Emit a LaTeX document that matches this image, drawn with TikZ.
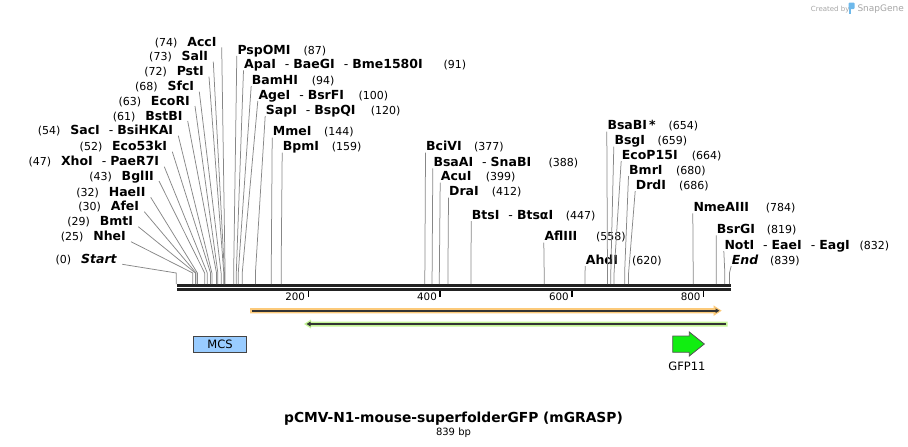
\documentclass[tikz,border=0pt]{standalone}
\usepackage{fontspec}
\setmainfont{DejaVu Sans}
\usepackage{xcolor}
\usepackage{tikz}
\usetikzlibrary{calc,arrows.meta}
\definecolor{siteGray}{RGB}{135,135,135}
\definecolor{backboneBlack}{RGB}{34,34,34}
\definecolor{featOrange}{RGB}{252,202,122}
\definecolor{featGreen}{RGB}{196,245,150}
\definecolor{featDark}{RGB}{51,51,51}
\definecolor{mcsBlue}{RGB}{153,204,255}
\definecolor{mcsEdge}{RGB}{68,68,68}
\definecolor{gfpGreen}{RGB}{17,238,17}
\definecolor{gfpEdge}{RGB}{85,85,85}
\definecolor{markGray}{RGB}{165,165,165}
\definecolor{snapBlue}{RGB}{110,185,235}
\newcommand{\orsep}{\hspace{9pt}{\mdseries-}\hspace{4pt}}

\begin{document}
\begin{tikzpicture}[x=1pt,y=-1pt,
    enz/.style={font=\fontsize{12.5}{14}\selectfont\bfseries,inner sep=0pt},
    bpnum/.style={font=\fontsize{11}{13}\selectfont,inner sep=0pt},
    cutline/.style={draw=siteGray,line width=0.75pt},
    tickline/.style={draw=black,line width=1.3pt},
    plain/.style={font=\fontsize{11.5}{13}\selectfont,inner sep=0pt}
  ]
  \useasboundingbox (0,0) rectangle (908,447);

  % sequence backbone
  \coordinate (seqStart) at (177,287.3);
  \coordinate (seqEnd) at (730.7,287.3);
  \draw[backboneBlack,line width=2.7pt] ([yshift=-2pt]seqStart) -- ([yshift=-2pt]seqEnd);
  \draw[backboneBlack,line width=2.7pt] ([yshift=2pt]seqStart) -- ([yshift=2pt]seqEnd);
  \foreach \t in {200,400,600,800} {
    \pgfmathsetmacro{\tx}{176.3+0.6593*\t}
    \draw[tickline] (\tx,290.5) -- (\tx,297);
    \node[anchor=base east,font=\fontsize{10.3}{12}\selectfont,inner sep=0pt] (t\t) at (\tx-3,300.5) {\t};
  }

  % sites labelled on the left
  \foreach \bp/\y/\xe/\name [count=\i] in {
      74/42.3/216.7/AccI, 73/56.7/208.3/SalI, 72/71.7/204/PstI,
      68/86.7/194.3/SfcI, 63/101/190/EcoRI, 61/116/182.7/BstBI,
      54/130.7/173.3/SacI\orsep BsiHKAI, 52/146.7/167.3/Eco53kI,
      47/161.7/159.3/XhoI\orsep PaeR7I, 43/176/154/BglII,
      32/192.3/145.7/HaeII, 30/206.7/139.3/AfeI, 29/221.7/133.3/BmtI,
      25/236.7/126/NheI, 0/259.3/117.3/\textit{Start}} {
    \pgfmathsetmacro{\sx}{176.3+0.6593*\bp}
    \node[enz,anchor=base east] (l\i) at (\xe,\y+4) {\name};
    \node[bpnum,anchor=base east] (ln\i) at ([xshift=-9.5pt]l\i.base west) {(\bp)};
    \coordinate (ls\i) at (\sx,273);
    \coordinate (lb\i) at (\sx,284);
    \draw[cutline] ([shift={(5,1)}]l\i.base east) -- (ls\i) -- (lb\i);
  }

  % sites labelled above
  \foreach \bp/\y/\xs/\xn/\name [count=\i] in {
      87/50/237.3/303.3/PspOMI,
      91/64.3/244/443.3/ApaI\orsep BaeGI\orsep Bme1580I,
      94/80/251.7/311.7/BamHI,
      100/95/258.3/358.3/AgeI\orsep BsrFI,
      120/110/265.7/370.7/SapI\orsep BspQI,
      144/131.7/272.7/324/MmeI,
      159/146.7/282.7/331.7/BpmI,
      377/146.7/426/474/BciVI,
      388/162.3/433.3/548.3/BsaAI\orsep SnaBI,
      399/176.7/440.7/485.7/AcuI,
      412/191.7/449/491.7/DraI,
      447/215/471.7/565.7/BtsI\orsep BtsαI,
      558/236.7/544.3/596/AflIII,
      620/260/585.7/632/AhdI,
      654/125.7/607.3/668.3/BsaBI\,*,
      659/140.7/614.3/657.3/BsgI,
      664/155/621.7/691.7/EcoP15I,
      680/170/629/676/BmrI,
      686/185/635.7/679/DrdI,
      784/207.3/693.3/765.7/NmeAIII,
      819/229.3/716.7/766.7/BsrGI,
      832/245/724.3/859.3/NotI\orsep EaeI\orsep EagI,
      839/260/731.7/770/\textit{End}} {
    \pgfmathsetmacro{\sx}{176.3+0.6593*\bp}
    \node[enz,anchor=base west] (r\i) at (\xs,\y+4) {\name};
    \node[bpnum,anchor=base west] (rn\i) at (\xn,\y+4) {(\bp)};
    \coordinate (rs\i) at (\sx,273);
    \coordinate (rb\i) at (\sx,284);
    \draw[cutline] ([shift={(-0.5,2)}]r\i.base west) -- (rs\i) -- (rb\i);
  }

  % features
  \fill[featOrange] (250,308) -- (713.5,308) -- (713.5,305.3) -- (721.7,310.7)
    -- (713.5,316) -- (713.5,313.4) -- (250,313.4) -- cycle;
  \draw[featDark,line width=1.6pt,-{Triangle[length=4pt,width=4.5pt]}] (252,310.7) -- (719.5,310.7);
  \fill[featGreen] (727.7,321.7) -- (311,321.7) -- (311,319.5) -- (304,324)
    -- (311,328.5) -- (311,326.5) -- (727.7,326.5) -- cycle;
  \draw[featDark,line width=1.6pt,-{Triangle[length=4pt,width=4.5pt]}] (726,324) -- (306.5,324);

  \node[draw=mcsEdge,fill=mcsBlue,line width=0.8pt,minimum width=53pt,minimum height=16pt,
        plain] (mcs) at (220,344.2) {MCS};
  \draw[draw=gfpEdge,fill=gfpGreen,line width=0.8pt] (672.7,336) -- (689.3,336) -- (689.3,332)
    -- (704.3,344) -- (689.3,356) -- (689.3,352.3) -- (672.7,352.3) -- cycle;
  \node[plain,anchor=base] (gfp) at (687,370) {GFP11};

  % title
  \node[anchor=base,font=\fontsize{13.8}{16}\selectfont\bfseries,inner sep=0pt] (title) at (453.5,422) {pCMV-N1-mouse-superfolderGFP (mGRASP)};
  \node[anchor=base,font=\fontsize{10}{12}\selectfont,inner sep=0pt] (size) at (453.5,435.5) {839 bp};

  % watermark
  \node[anchor=base west,font=\fontsize{7}{8}\selectfont,text=markGray,inner sep=0pt] (made) at (810.7,11) {Created by};
  \fill[snapBlue,rounded corners=1pt] (848.5,2.5) rectangle (854.5,9);
  \fill[snapBlue] (848.5,6) rectangle (851,14);
  \node[anchor=base west,font=\fontsize{9}{10}\selectfont,text=markGray,inner sep=0pt] (snap) at (857.3,11.5) {SnapGene};
\end{tikzpicture}
\end{document}
